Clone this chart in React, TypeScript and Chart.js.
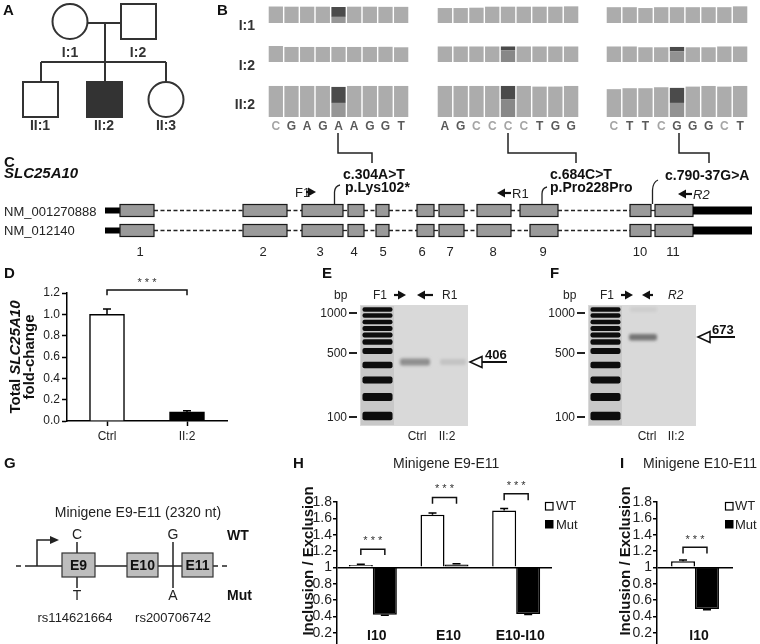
import React, { useEffect, useRef } from "react";
import { Chart, registerables } from "chart.js";

Chart.register(...registerables);
const FONT = "'Liberation Sans', Arial, Helvetica, sans-serif";
Chart.defaults.font.family = FONT;

// ---------------- Panel B: chromatogram peaks ----------------
const seqExon3 = ["C", "G", "A", "G", "A", "A", "G", "G", "T"];
const seqExon9 = ["A", "G", "C", "C", "C", "C", "T", "G", "G"];
const seqIntron10 = ["C", "T", "T", "C", "G", "G", "G", "C", "T"];
const hetPos = 4;

const peaksE3_I1 = [0.97, 0.96, 0.96, 0.96, 0.94, 0.96, 0.96, 0.95, 0.95];
const peaksE3_I2 = [1.0, 0.94, 0.94, 0.94, 0.94, 0.94, 0.94, 0.95, 0.92];
const peaksE3_II2 = [0.97, 0.97, 0.97, 0.97, 0.94, 0.97, 0.97, 0.97, 0.97];
const hetLowE3 = [0.36, 0, 0.44];
const hetHighE3 = [0.58, 0, 0.5];

const peaksE9_I1 = [0.88, 0.88, 0.9, 0.96, 0.96, 0.96, 0.96, 0.96, 0.98];
const peaksE9_I2 = [0.97, 0.97, 0.97, 0.97, 0.97, 0.97, 0.97, 0.97, 0.97];
const peaksE9_II2 = [0.97, 0.97, 0.97, 0.97, 0.97, 0.97, 0.95, 0.95, 0.97];
const hetLowE9 = [0, 0.72, 0.56];
const hetHighE9 = [0, 0.25, 0.41];

const peaksI10_I1 = [0.93, 0.93, 0.88, 0.93, 0.93, 0.93, 0.93, 0.93, 0.98];
const peaksI10_I2 = [0.97, 0.97, 0.92, 0.92, 0.92, 0.92, 0.92, 0.97, 0.97];
const peaksI10_II2 = [0.87, 0.9, 0.9, 0.93, 0.91, 0.95, 0.97, 0.95, 0.97];
const hetLowI10 = [0, 0.66, 0.44];
const hetHighI10 = [0, 0.28, 0.47];

// ---------------- Panel D ----------------
const dCategories = ["Ctrl", "II:2"];
const dFoldChange = [1.0, 0.085];
const dSem = [0.05, 0.01];

// ---------------- Panel H ----------------
const hCategories = ["I10", "E10", "E10-I10"];
const hWT = [1.03, 1.645, 1.695];
const hWTSem = [0.008, 0.02, 0.025];
const hMut = [0.42, 1.035, 0.43];
const hMutSem = [0.008, 0.01, 0.008];

// ---------------- Panel I ----------------
const iCategories = ["I10"];
const iWT = [1.075];
const iWTSem = [0.015];
const iMut = [0.49];
const iMutSem = [0.008];

// ---------------- plugins ----------------
const errorBarPlugin = {
  id: "errorBars",
  afterDatasetsDraw(chart: any) {
    const ctx = chart.ctx;
    const ys = chart.scales.y;
    chart.data.datasets.forEach((ds: any, di: number) => {
      const errs = ds.errorBars;
      if (!errs) return;
      const base = ds.base ?? 0;
      const meta = chart.getDatasetMeta(di);
      meta.data.forEach((bar: any, i: number) => {
        const v = ds.data[i];
        const e = errs[i];
        const end = v >= base ? v + e : v - e;
        const y0 = ys.getPixelForValue(v);
        const y1 = ys.getPixelForValue(end);
        ctx.save();
        ctx.strokeStyle = "#000";
        ctx.lineWidth = 1.5;
        ctx.beginPath();
        ctx.moveTo(bar.x, y0);
        ctx.lineTo(bar.x, y1);
        ctx.moveTo(bar.x - 4, y1);
        ctx.lineTo(bar.x + 4, y1);
        ctx.stroke();
        ctx.restore();
      });
    });
  },
};

function makeSigPlugin(items: any[]) {
  return {
    id: "sigBrackets",
    afterDatasetsDraw(chart: any) {
      const ctx = chart.ctx;
      const ys = chart.scales.y;
      items.forEach((it) => {
        const xa = chart.getDatasetMeta(it.a[0]).data[it.a[1]].x;
        const xb = chart.getDatasetMeta(it.b[0]).data[it.b[1]].x;
        const yt = ys.getPixelForValue(it.top);
        const yl = ys.getPixelForValue(it.leg);
        const yst = ys.getPixelForValue(it.star);
        ctx.save();
        ctx.strokeStyle = "#111";
        ctx.lineWidth = 1.5;
        ctx.beginPath();
        ctx.moveTo(xa, yl);
        ctx.lineTo(xa, yt);
        ctx.lineTo(xb, yt);
        ctx.lineTo(xb, yl);
        ctx.stroke();
        ctx.fillStyle = "#333";
        ctx.font = `11px ${FONT}`;
        ctx.textAlign = "center";
        ctx.textBaseline = "middle";
        ctx.fillText("* * *", (xa + xb) / 2, yst);
        ctx.restore();
      });
    },
  };
}

// ---------------- configs ----------------
function chromConfig(seq: string[], peaks: number[], low: number, high: number, lowColor: string, showLetters: boolean) {
  const het = high > 0;
  const base = peaks.map((p, i) => (het && i === hetPos ? low : p));
  const top = peaks.map((_p, i) => (het && i === hetPos ? high : 0));
  const colors = peaks.map((_p, i) => (het && i === hetPos ? lowColor : "#acacac"));
  return {
    type: "bar",
    data: {
      labels: seq,
      datasets: [
        { data: base, backgroundColor: colors, borderWidth: 0, barPercentage: 0.91, categoryPercentage: 1, stack: "s" },
        { data: top, backgroundColor: "#4b4b4b", borderWidth: 0, barPercentage: 0.91, categoryPercentage: 1, stack: "s" },
      ],
    },
    options: {
      animation: false,
      responsive: false,
      events: [],
      layout: { padding: 0 },
      plugins: { legend: { display: false }, tooltip: { enabled: false } },
      scales: {
        x: {
          stacked: true,
          display: showLetters,
          grid: { display: false, drawTicks: false },
          border: { display: false },
          ticks: {
            autoSkip: false,
            maxRotation: 0,
            padding: 2,
            font: { size: 12, weight: "bold" },
            color: (c: any) => (seq[c.index] === "C" ? "#a5a5a5" : "#5a5a5a"),
          },
          afterFit: (s: any) => {
            s.height = 16;
          },
        },
        y: { stacked: true, display: false, min: 0, max: 1 },
      },
    },
  };
}

function dConfig() {
  return {
    type: "bar",
    data: {
      labels: dCategories,
      datasets: [
        {
          data: dFoldChange,
          errorBars: dSem,
          backgroundColor: ["#ffffff", "#000000"],
          borderColor: "#000",
          borderWidth: 1.5,
          barThickness: 35,
        },
      ],
    },
    options: {
      animation: false,
      responsive: false,
      events: [],
      layout: { padding: { top: 21, right: 13, left: 0, bottom: 0 } },
      plugins: { legend: { display: false }, tooltip: { enabled: false } },
      scales: {
        x: {
          offset: true,
          grid: { display: true, drawOnChartArea: false, offset: false, drawTicks: true, tickLength: 5, tickColor: "#000", tickWidth: 1.5, color: "#000" },
          border: { display: true, color: "#000", width: 1.5 },
          ticks: { color: "#222", font: { size: 12 }, padding: 3 },
          afterFit: (s: any) => {
            s.height = 31;
          },
        },
        y: {
          min: 0,
          max: 1.2,
          grid: { drawOnChartArea: false, tickLength: 5, tickColor: "#000", tickWidth: 1.5, color: "#000" },
          border: { color: "#000", width: 1.5 },
          ticks: { stepSize: 0.2, autoSkip: false, color: "#222", font: { size: 12 }, padding: 2, callback: (v: any) => Number(v).toFixed(1) },
          afterFit: (s: any) => {
            s.width = 67;
          },
        },
      },
    },
    plugins: [errorBarPlugin, makeSigPlugin([{ a: [0, 0], b: [0, 1], top: 1.228, leg: 1.18, star: 1.29 }])],
  };
}

function ratioConfig(labels: string[], wt: number[], wtSem: number[], mut: number[], mutSem: number[], catPct: number, padRight: number, sig: any[]) {
  return {
    type: "bar",
    data: {
      labels,
      datasets: [
        { label: "WT", data: wt, errorBars: wtSem, base: 1, backgroundColor: "#ffffff", borderColor: "#000", borderWidth: 1.5, barPercentage: 1, categoryPercentage: catPct },
        { label: "Mut", data: mut, errorBars: mutSem, base: 1, backgroundColor: "#000000", borderColor: "#000", borderWidth: 1.5, barPercentage: 1, categoryPercentage: catPct },
      ],
    },
    options: {
      animation: false,
      responsive: false,
      events: [],
      layout: { padding: { top: 27, right: padRight, left: 0, bottom: 0 } },
      plugins: { legend: { display: false }, tooltip: { enabled: false } },
      scales: {
        x: {
          grid: { display: false, drawTicks: false },
          border: { display: false },
          ticks: { color: "#111", font: { size: 14, weight: "bold" }, mirror: true, padding: 4, labelOffset: 4, maxRotation: 0, autoSkip: false },
          afterFit: (s: any) => {
            s.height = 16;
          },
        },
        y: {
          min: 0,
          max: 1.8,
          grid: {
            drawOnChartArea: true,
            color: (c: any) => (c.tick && Math.abs(c.tick.value - 1) < 1e-6 ? "#000" : "rgba(0,0,0,0)"),
            lineWidth: 1.5,
            tickColor: "#000",
            tickWidth: 1.5,
            tickLength: 4,
          },
          border: { display: true, color: "#000", width: 1.5 },
          ticks: {
            stepSize: 0.2,
            autoSkip: false,
            color: "#222",
            font: { size: 14 },
            padding: 1,
            callback: (v: any) => {
              const n = Number(v);
              if (Math.abs(n) < 1e-6) return "";
              if (Math.abs(n - 1) < 1e-6) return "1";
              return n.toFixed(1);
            },
          },
          afterFit: (s: any) => {
            s.width = 57;
          },
        },
      },
    },
    plugins: [errorBarPlugin, makeSigPlugin(sig)],
  };
}

function ChartBox(props: { left: number; top: number; width: number; height: number; make: () => any }) {
  const ref = useRef<HTMLCanvasElement>(null);
  useEffect(() => {
    const c = new Chart(ref.current as HTMLCanvasElement, props.make());
    return () => c.destroy();
  }, []);
  return (
    <canvas
      ref={ref}
      width={props.width}
      height={props.height}
      style={{ position: "absolute", left: props.left, top: props.top, width: props.width, height: props.height }}
    />
  );
}

const chromGroups = [
  { seq: seqExon3, rows: [peaksE3_I1, peaksE3_I2, peaksE3_II2], low: hetLowE3, high: hetHighE3, lowColor: "#979797" },
  { seq: seqExon9, rows: [peaksE9_I1, peaksE9_I2, peaksE9_II2], low: hetLowE9, high: hetHighE9, lowColor: "#888888" },
  { seq: seqIntron10, rows: [peaksI10_I1, peaksI10_I2, peaksI10_II2], low: hetLowI10, high: hetHighI10, lowColor: "#929292" },
];
const groupLeft = [268, 437, 606];
const groupWidth = [141, 142, 142];
const rowTop = [6, 46, 85];
const rowH = [33, 32, 32];

const exonsA = [[120, 154], [243, 287], [302, 343], [348, 364], [376, 389], [417, 434], [439, 464], [477, 511], [520, 558], [630, 651], [655, 693]];
const exonsB = [[120, 154], [243, 287], [302, 343], [348, 364], [376, 389], [417, 434], [439, 464], [477, 511], [530, 558], [630, 651], [655, 693]];
const exonNumX = [140, 263, 320, 354, 383, 422, 450, 493, 543, 640, 673];
const ladderBands = [[309.5, 4.5], [315.5, 4.5], [322, 4.5], [328.5, 5], [335, 5], [342, 5.5], [351, 6], [365, 6.5], [380, 7], [397, 8], [416, 8.5]];

function Track({ y, exons }: { y: number; exons: number[][] }) {
  const items: any[] = [];
  items.push(<rect key="u5" x={105} y={y - 3} width={15} height={6} fill="#000" />);
  for (let i = 0; i < exons.length - 1; i++) {
    items.push(
      <line key={"i" + i} x1={exons[i][1]} y1={y} x2={exons[i + 1][0]} y2={y} stroke="#222" strokeWidth={1.3} strokeDasharray="4 2.5" />
    );
  }
  exons.forEach((e, i) =>
    items.push(<rect key={"e" + i} x={e[0]} y={y - 6} width={e[1] - e[0]} height={12} fill="#9a9a9a" stroke="#1a1a1a" strokeWidth={1.2} />)
  );
  items.push(<rect key="u3" x={693} y={y - 4} width={59} height={8} fill="#000" />);
  return <g>{items}</g>;
}

function Gel({ x, ladderX }: { x: number; ladderX: number }) {
  return (
    <g>
      <rect x={x} y={305} width={108} height={121} fill="#d9d9d9" />
      <rect x={ladderX - 1} y={306} width={33} height={119} fill="#c8c8c8" />
      {ladderBands.map(([cy, bh], i) => (
        <rect key={i} x={ladderX + 0.5} y={cy - bh / 2} width={30} height={bh} rx={2} fill="#0d0d0d" filter="url(#gb1)" />
      ))}
    </g>
  );
}

function Arrow({ x1, x2, y }: { x1: number; x2: number; y: number }) {
  const dir = x2 > x1 ? 1 : -1;
  const hx = x2 - dir * 8;
  return (
    <g>
      <line x1={x1} y1={y} x2={hx} y2={y} stroke="#111" strokeWidth={2.2} />
      <polygon points={`${x2},${y} ${hx},${y - 4.5} ${hx},${y + 4.5}`} fill="#111" />
    </g>
  );
}

export default function App() {
  const txt = { fontFamily: FONT } as any;
  return (
    <div style={{ position: "absolute", left: 0, top: 0, width: 760, height: 644, overflow: "hidden", background: "#fff" }}>
      {chromGroups.map((g, gi) =>
        g.rows.map((peaks, ri) => (
          <ChartBox
            key={`b${gi}${ri}`}
            left={groupLeft[gi]}
            top={rowTop[ri]}
            width={groupWidth[gi]}
            height={rowH[ri] + (ri === 2 ? 16 : 0)}
            make={() => chromConfig(g.seq, peaks, g.low[ri], g.high[ri], g.lowColor, ri === 2)}
          />
        ))
      )}
      <ChartBox left={0} top={272} width={240} height={180} make={dConfig} />
      <ChartBox
        left={280}
        top={475}
        width={280}
        height={190}
        make={() =>
          ratioConfig(hCategories, hWT, hWTSem, hMut, hMutSem, 0.67, 8, [
            { a: [0, 0], b: [1, 0], top: 1.22, leg: 1.15, star: 1.32 },
            { a: [0, 1], b: [1, 1], top: 1.855, leg: 1.78, star: 1.96 },
            { a: [0, 2], b: [1, 2], top: 1.9, leg: 1.82, star: 2.0 },
          ])
        }
      />
      <ChartBox
        left={600}
        top={475}
        width={150}
        height={190}
        make={() => ratioConfig(iCategories, iWT, iWTSem, iMut, iMutSem, 0.63, 17, [{ a: [0, 0], b: [1, 0], top: 1.245, leg: 1.17, star: 1.34 }])}
      />
      <svg width={760} height={644} style={{ position: "absolute", left: 0, top: 0, pointerEvents: "none" }} {...txt}>
        <defs>
          <filter id="gb1" x="-20%" y="-50%" width="140%" height="200%">
            <feGaussianBlur stdDeviation="0.7" />
          </filter>
          <filter id="gb2" x="-20%" y="-80%" width="140%" height="260%">
            <feGaussianBlur stdDeviation="1.4" />
          </filter>
        </defs>
        {[
          ["A", 3, 15],
          ["B", 217, 15],
          ["C", 4, 167],
          ["D", 4, 278],
          ["E", 322, 278],
          ["F", 550, 278],
          ["G", 4, 468],
          ["H", 293, 468],
          ["I", 620, 468],
        ].map(([t, x, y]) => (
          <text key={t as string} x={x as number} y={y as number} fontSize={15} fontWeight="bold" fill="#111">
            {t}
          </text>
        ))}

        {/* A pedigree */}
        <g stroke="#333" strokeWidth={2} fill="none">
          <line x1={87.5} y1={23} x2={121} y2={23} />
          <line x1={105} y1={23} x2={105} y2={82} />
          <line x1={41} y1={62} x2={166} y2={62} />
          <line x1={41} y1={62} x2={41} y2={82} />
          <line x1={166} y1={62} x2={166} y2={82} />
          <circle cx={70} cy={21.5} r={17.5} fill="#fff" />
          <rect x={121} y={4} width={35} height={35} fill="#fff" />
          <rect x={23} y={82} width={35} height={35} fill="#fff" />
          <rect x={87} y={82} width={35} height={35} fill="#333" />
          <circle cx={166} cy={99.5} r={17.5} fill="#fff" />
        </g>
        <g fontSize={14} fontWeight="bold" fill="#333" textAnchor="middle">
          <text x={70} y={57}>I:1</text>
          <text x={138} y={57}>I:2</text>
          <text x={40} y={130}>II:1</text>
          <text x={104} y={130}>II:2</text>
          <text x={166} y={130}>II:3</text>
        </g>

        {/* B row labels and brackets */}
        <g fontSize={14} fontWeight="bold" fill="#333" textAnchor="end">
          <text x={255} y={30}>I:1</text>
          <text x={255} y={70}>I:2</text>
          <text x={255} y={109}>II:2</text>
        </g>
        <g stroke="#222" strokeWidth={1.5} fill="none">
          <polyline points="338,133 338,153 372,153 372,163" />
          <polyline points="508,133 508,153 576,153 576,163" />
          <polyline points="679,133 679,153 709,153 709,163" />
        </g>

        {/* C gene structure */}
        <text x={4} y={178} fontSize={15} fontWeight="bold" fontStyle="italic" fill="#111">SLC25A10</text>
        <text x={4} y={216} fontSize={13} fill="#222">NM_001270888</text>
        <text x={4} y={235} fontSize={13} fill="#222">NM_012140</text>
        <Track y={210.5} exons={exonsA} />
        <Track y={230.5} exons={exonsB} />
        <g fontSize={13} fill="#222" textAnchor="middle">
          {exonNumX.map((x, i) => (
            <text key={i} x={x} y={256}>
              {i + 1}
            </text>
          ))}
        </g>
        <g fontSize={14} fontWeight="bold" fill="#111">
          <text x={343} y={179}>c.304A&gt;T</text>
          <text x={345} y={192}>p.Lys102*</text>
          <text x={550} y={179}>c.684C&gt;T</text>
          <text x={550} y={192}>p.Pro228Pro</text>
          <text x={665} y={180}>c.790-37G&gt;A</text>
        </g>
        <g stroke="#222" strokeWidth={1.3} fill="none">
          <path d="M334.5 204 V192 Q335 186 340 185" />
          <path d="M542 204 V194 Q542 188 547 187" />
          <path d="M652.5 204 V190 Q653 182 658 180" />
        </g>
        <g fontSize={13} fill="#222">
          <text x={295} y={197}>F1</text>
          <text x={512} y={198}>R1</text>
          <text x={693} y={199} fontStyle="italic">R2</text>
        </g>
        <Arrow x1={306} x2={316} y={192} />
        <Arrow x1={511} x2={497} y={193} />
        <Arrow x1={692} x2={678} y={194} />

        {/* D y title */}
        <g transform="rotate(-90 14 357)">
          <text x={14} y={357} fontSize={15} fontWeight="bold" fill="#111" textAnchor="middle" dominantBaseline="central">
            Total <tspan fontStyle="italic">SLC25A10</tspan>
          </text>
        </g>
        <g transform="rotate(-90 28 357)">
          <text x={28} y={357} fontSize={15} fontWeight="bold" fill="#111" textAnchor="middle" dominantBaseline="central">
            fold-change
          </text>
        </g>

        {/* E gel */}
        <Gel x={360} ladderX={362} />
        <rect x={400} y={358.5} width={30} height={7} rx={2} fill="#8e8e8e" filter="url(#gb2)" />
        <rect x={440} y={359} width={26} height={6} rx={2} fill="#c3c3c3" filter="url(#gb2)" />
        <g fontSize={12} fill="#222">
          <text x={334} y={299}>bp</text>
          <text x={373} y={299}>F1</text>
          <text x={442} y={299}>R1</text>
          <text x={417} y={440} textAnchor="middle">Ctrl</text>
          <text x={447} y={440} textAnchor="middle">II:2</text>
          <text x={347} y={317} textAnchor="end">1000</text>
          <text x={347} y={357} textAnchor="end">500</text>
          <text x={347} y={421} textAnchor="end">100</text>
        </g>
        <g stroke="#222" strokeWidth={2}>
          <line x1={349} y1={313} x2={357} y2={313} />
          <line x1={349} y1={353} x2={357} y2={353} />
          <line x1={349} y1={417} x2={357} y2={417} />
        </g>
        <Arrow x1={394} x2={406} y={295} />
        <Arrow x1={433} x2={417} y={295} />
        <polygon points="470,362 482,356.5 482,367.5" fill="#fff" stroke="#111" strokeWidth={1.5} />
        <line x1={482} y1={362} x2={507} y2={362} stroke="#111" strokeWidth={2} />
        <text x={485} y={359} fontSize={13} fontWeight="bold" fill="#111">406</text>

        {/* F gel */}
        <Gel x={588} ladderX={590} />
        <rect x={630} y={307} width={27} height={5} rx={2} fill="#cdcdcd" filter="url(#gb2)" />
        <rect x={629} y={334} width={28} height={6.5} rx={2} fill="#747474" filter="url(#gb2)" />
        <g fontSize={12} fill="#222">
          <text x={563} y={299}>bp</text>
          <text x={600} y={299}>F1</text>
          <text x={668} y={299} fontStyle="italic">R2</text>
          <text x={647} y={440} textAnchor="middle">Ctrl</text>
          <text x={676} y={440} textAnchor="middle">II:2</text>
          <text x={575} y={317} textAnchor="end">1000</text>
          <text x={575} y={357} textAnchor="end">500</text>
          <text x={575} y={421} textAnchor="end">100</text>
        </g>
        <g stroke="#222" strokeWidth={2}>
          <line x1={577} y1={313} x2={585} y2={313} />
          <line x1={577} y1={353} x2={585} y2={353} />
          <line x1={577} y1={417} x2={585} y2={417} />
        </g>
        <Arrow x1={621} x2={633} y={295} />
        <Arrow x1={653} x2={642} y={295} />
        <polygon points="698,337 710,331.5 710,342.5" fill="#fff" stroke="#111" strokeWidth={1.5} />
        <line x1={710} y1={337} x2={735} y2={337} stroke="#111" strokeWidth={2} />
        <text x={712} y={334} fontSize={13} fontWeight="bold" fill="#111">673</text>

        {/* G minigene */}
        <text x={138} y={517} fontSize={14} fill="#222" textAnchor="middle">Minigene E9-E11 (2320 nt)</text>
        <g stroke="#222" strokeWidth={1.5} fill="none">
          <line x1={16} y1={566} x2={21} y2={566} />
          <line x1={25} y1={566} x2={62} y2={566} />
          <line x1={95} y1={566} x2={127} y2={566} />
          <line x1={158} y1={566} x2={182} y2={566} />
          <line x1={213} y1={566} x2={218} y2={566} />
          <line x1={222} y1={566} x2={227} y2={566} />
          <polyline points="37,566 37,540 51,540" />
          <line x1={77} y1={542} x2={77} y2={553} />
          <line x1={77} y1={577} x2={77} y2={588} />
          <line x1={173} y1={542} x2={173} y2={588} />
        </g>
        <polygon points="50,536 59,540 50,544" fill="#222" />
        <g fill="#bdbdbd" stroke="#333" strokeWidth={1.2}>
          <rect x={62} y={553} width={33} height={24} />
          <rect x={127} y={553} width={31} height={24} />
          <rect x={182} y={553} width={31} height={24} />
        </g>
        <g fontSize={14} fontWeight="bold" fill="#111" textAnchor="middle">
          <text x={78.5} y={570}>E9</text>
          <text x={142.5} y={570}>E10</text>
          <text x={197.5} y={570}>E11</text>
        </g>
        <g fontSize={14} fill="#222" textAnchor="middle">
          <text x={77} y={539}>C</text>
          <text x={77} y={600}>T</text>
          <text x={173} y={539}>G</text>
          <text x={173} y={600}>A</text>
        </g>
        <g fontSize={14} fontWeight="bold" fill="#111">
          <text x={227} y={540}>WT</text>
          <text x={227} y={600}>Mut</text>
        </g>
        <g fontSize={13} fill="#222" textAnchor="middle">
          <text x={75} y={622}>rs114621664</text>
          <text x={173} y={622}>rs200706742</text>
        </g>

        {/* H / I titles, axis titles, legends */}
        <text x={393} y={468} fontSize={14} fill="#222">Minigene E9-E11</text>
        <text x={643} y={468} fontSize={14} fill="#222">Minigene E10-E11</text>
        <g transform="rotate(-90 307 561)">
          <text x={307} y={561} fontSize={15} fontWeight="bold" fill="#111" textAnchor="middle" dominantBaseline="central">
            Inclusion / Exclusion
          </text>
        </g>
        <g transform="rotate(-90 624 561)">
          <text x={624} y={561} fontSize={15} fontWeight="bold" fill="#111" textAnchor="middle" dominantBaseline="central">
            Inclusion / Exclusion
          </text>
        </g>
        <rect x={545.5} y={502.5} width={7.5} height={7.5} fill="#fff" stroke="#000" strokeWidth={1.2} />
        <rect x={545} y={520} width={8.5} height={8.5} fill="#000" />
        <text x={556} y={510} fontSize={13} fill="#222">WT</text>
        <text x={556} y={528.5} fontSize={13} fill="#222">Mut</text>
        <rect x={725.5} y={502.5} width={7.5} height={7.5} fill="#fff" stroke="#000" strokeWidth={1.2} />
        <rect x={725} y={520} width={8.5} height={8.5} fill="#000" />
        <text x={735} y={510} fontSize={13} fill="#222">WT</text>
        <text x={735} y={528.5} fontSize={13} fill="#222">Mut</text>
      </svg>
    </div>
  );
}
